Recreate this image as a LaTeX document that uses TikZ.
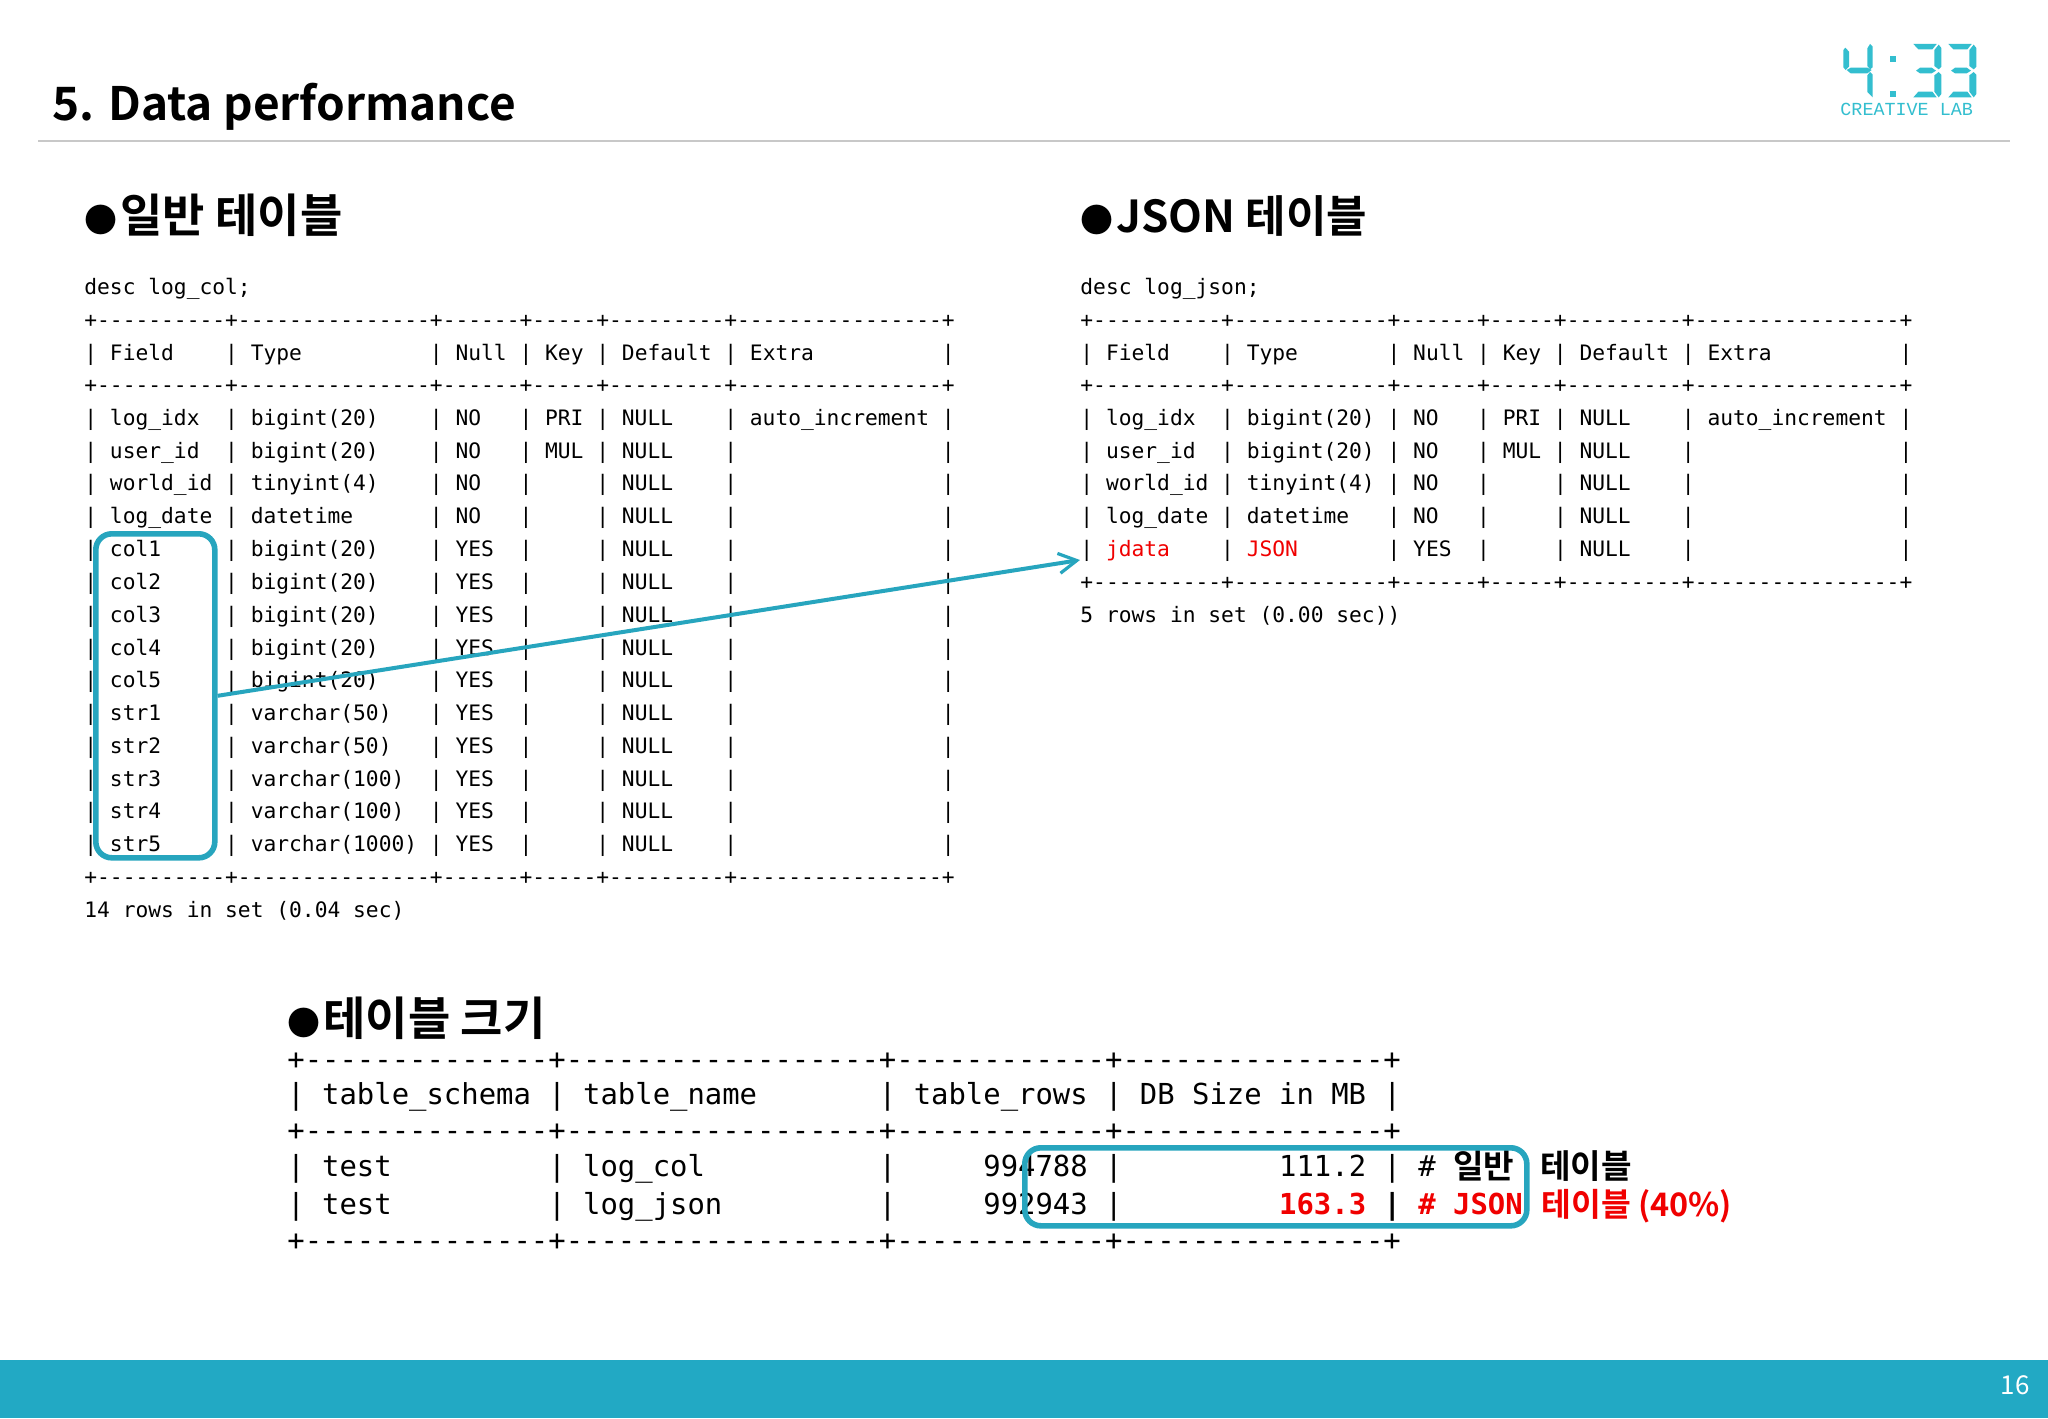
\documentclass[tikz,border=0pt]{standalone}
\usepackage{fontspec}
\usetikzlibrary{arrows.meta}
\newfontfamily\monof{DejaVu Sans Mono}
\newfontfamily\krf{Noto Sans CJK KR}
\newfontfamily\krb{Noto Sans CJK KR Bold}
\newfontfamily\logof{Liberation Mono}
\definecolor{band}{HTML}{22A9C4}
\definecolor{boxc}{HTML}{27A5BE}
\definecolor{logoc}{HTML}{33BECF}
\definecolor{redt}{HTML}{F00000}
\definecolor{rulec}{HTML}{C8C8C8}
\tikzset{
  small/.style={anchor=mid west,inner sep=0pt,font=\monof\fontsize{10.63}{12}\selectfont},
  big/.style={anchor=mid west,inner sep=0pt,font=\monof\fontsize{14.45}{16}\selectfont},
  head/.style={anchor=mid west,inner sep=0pt,font=\krb\fontsize{23}{26}\selectfont},
  headj/.style={anchor=mid west,inner sep=0pt,font=\krb\fontsize{22}{26}\selectfont},
  note/.style={anchor=mid west,inner sep=0pt,font=\krb\fontsize{16.6}{18}\selectfont},
  notej/.style={anchor=mid west,inner sep=0pt,text=redt,font=\krb\fontsize{16.2}{18}\selectfont},
  frame/.style={draw=boxc,line width=2.8pt,rounded corners=8pt,inner sep=0pt,anchor=north west},
  link/.style={draw=boxc,line width=2pt,-{Straight Barb[length=9pt,width=10pt,line width=1.6pt]}},
  seg/.style={fill=logoc,draw=none}
}
\newcommand\bul{{\fontsize{16.5}{18}\selectfont ●}\hspace{1.5pt}}
\def\sep{+----------+---------------+------+-----+---------+----------------+}
\def\sepj{+----------+------------+------+-----+---------+----------------+}
\def\sepb{+--------------+------------------+------------+---------------+}
\def\ty{|~YES~~|~~~~~|~NULL~~~~|~~~~~~~~~~~~~~~~|}
\def\tn{|~NO~~~|~~~~~|~NULL~~~~|~~~~~~~~~~~~~~~~|}
\def\tm{|~NO~~~|~MUL~|~NULL~~~~|~~~~~~~~~~~~~~~~|}
\def\tp{|~NO~~~|~PRI~|~NULL~~~~|~auto\_increment~|}
\newcommand\threeseg{%
  \fill[seg] (400,72)--(470,72)--(457,88)--(415,88)--cycle;
  \fill[seg] (408,152)--(420,143)--(455,143)--(468,152)--(455,160)--(420,160)--cycle;
  \fill[seg] (400,232)--(470,232)--(457,215)--(415,215)--cycle;
  \fill[seg] (476,74)--(484,84)--(484,140)--(476,148)--(463,138)--(463,90)--cycle;
  \fill[seg] (476,156)--(484,164)--(484,222)--(476,232)--(463,215)--(463,166)--cycle;
}
\begin{document}
\begin{tikzpicture}[x=0.5pt,y=-0.5pt]
\useasboundingbox (0,0) rectangle (2048,1418);
\fill[white] (0,0) rectangle (2048,1418);
% header and footer
\node[anchor=mid west,inner sep=0pt,font=\krb\fontsize{23}{27}\selectfont] (title) at (52,116) {5. Data performance};
\draw[rulec,line width=0.8pt] (38,141) -- (2010,141);
\fill[band] (0,1360) rectangle (2048,1418);
\node[anchor=mid east,inner sep=0pt,text=white,font=\krf\fontsize{13}{15}\selectfont] (pageno) at (2030,1390) {16};
% logo
\begin{scope}[shift={(1780,20)},x=0.16667pt,y=-0.16667pt]
  \fill[seg] (190,90)--(196,83)--(207,95)--(207,140)--(197,150)--(190,142)--cycle;
  \fill[seg] (200,150)--(212,143)--(262,143)--(275,150)--(262,160)--(212,160)--cycle;
  \fill[seg] (270,72)--(278,80)--(278,142)--(270,148)--(262,138)--(262,85)--cycle;
  \fill[seg] (270,156)--(278,164)--(278,232)--(262,216)--(262,166)--cycle;
  \fill[seg] (330,108) rectangle (348,125);
  \fill[seg] (330,213) rectangle (348,230);
  \threeseg
  \begin{scope}[shift={(105,0)}]\threeseg\end{scope}
\end{scope}
\node[anchor=mid west,inner sep=0pt,text=logoc,font=\logof\fontsize{9.2}{10}\selectfont] (logotext) at (1840,111) {CREATIVE LAB};
% headings
\node[head] (h1) at (84,228) {\bul 일반 테이블};
\node[headj] (h2) at (1080,228) {\bul JSON 테이블};
\node[head] (h3) at (287,1031) {\bul 테이블 크기};
% left table
\node[small] (a0) at (84,290.5) {desc log\_col;};
\node[small] (a1) at (84,323.5) {\sep};
\node[small] (a2) at (84,356) {|~Field~~~~|~Type~~~~~~~~~~|~Null~|~Key~|~Default~|~Extra~~~~~~~~~~|};
\node[small] (a3) at (84,388.5) {\sep};
\node[small] (r0) at (84,421) {|~log\_idx~~|~bigint(20)~~~~\tp};
\node[small] (r1) at (84,453.7) {|~user\_id~~|~bigint(20)~~~~\tm};
\node[small] (r2) at (84,486.5) {|~world\_id~|~tinyint(4)~~~~\tn};
\node[small] (r3) at (84,519.2) {|~log\_date~|~datetime~~~~~~\tn};
\node[small] (r4) at (84,552.5) {|~col1~~~~~|~bigint(20)~~~~\ty};
\node[small] (r5) at (84,585.2) {|~col2~~~~~|~bigint(20)~~~~\ty};
\node[small] (r6) at (84,618) {|~col3~~~~~|~bigint(20)~~~~\ty};
\node[small] (r7) at (84,650.7) {|~col4~~~~~|~bigint(20)~~~~\ty};
\node[small] (r8) at (84,683.5) {|~col5~~~~~|~bigint(20)~~~~\ty};
\node[small] (r9) at (84,716.2) {|~str1~~~~~|~varchar(50)~~~\ty};
\node[small] (r10) at (84,749) {|~str2~~~~~|~varchar(50)~~~\ty};
\node[small] (r11) at (84,781.7) {|~str3~~~~~|~varchar(100)~~\ty};
\node[small] (r12) at (84,814.5) {|~str4~~~~~|~varchar(100)~~\ty};
\node[small] (r13) at (84,847.2) {|~str5~~~~~|~varchar(1000)~\ty};
\node[small] (a4) at (84,880.5) {\sep};
\node[small] (a5) at (84,913) {14 rows in set (0.04 sec)};
% right table
\node[small] (b0) at (1080,290.5) {desc log\_json;};
\node[small] (b1) at (1080,323.5) {\sepj};
\node[small] (b2) at (1080,356) {|~Field~~~~|~Type~~~~~~~|~Null~|~Key~|~Default~|~Extra~~~~~~~~~~|};
\node[small] (b3) at (1080,388.5) {\sepj};
\node[small] (s0) at (1080,421) {|~log\_idx~~|~bigint(20)~\tp};
\node[small] (s1) at (1080,453.7) {|~user\_id~~|~bigint(20)~\tm};
\node[small] (s2) at (1080,486.5) {|~world\_id~|~tinyint(4)~\tn};
\node[small] (s3) at (1080,519.2) {|~log\_date~|~datetime~~~\tn};
\node[small] (s4) at (1080,552.5) {|~{\color{redt}jdata}~~~~|~{\color{redt}JSON}~~~~~~~\ty};
\node[small] (b4) at (1080,585.5) {\sepj};
\node[small] (b5) at (1080,618) {5 rows in set (0.00 sec))};
% size table
\node[big] (c0) at (287,1065.5) {\sepb};
\node[big] (c1) at (287,1100) {|~table\_schema~|~table\_name~~~~~~~|~table\_rows~|~DB Size in MB~|};
\node[big] (c2) at (287,1136.5) {\sepb};
\node[big] (c3) at (287,1172.5) {|~test~~~~~~~~~|~log\_col~~~~~~~~~~|~~~~~994788~|~~~~~~~~~111.2~|~\#};
\node[big] (c4) at (287,1210) {|~test~~~~~~~~~|~log\_json~~~~~~~~~|~~~~~992943~|~~~~~~~~~{\bfseries\color{redt}163.3}~{\bfseries|}~{\bfseries\color{redt}\#~JSON}};
\node[big] (c5) at (287,1246.5) {\sepb};
\node[note] (n1) at (1453,1174) {일반};
\node[note] (n2) at (1540,1174) {테이블};
\node[notej] (n3) at (1541,1212) {테이블 (40\%)};
% highlights
\node[frame,minimum width=119pt*0.5,minimum height=324pt*0.5] (boxa) at (93,531) {};
\node[frame,minimum width=502pt*0.5,minimum height=78pt*0.5] (boxb) at (1022,1145) {};
\coordinate (target) at (1080,560);
\draw[link] (boxa.east) -- (target);
\end{tikzpicture}
\end{document}
